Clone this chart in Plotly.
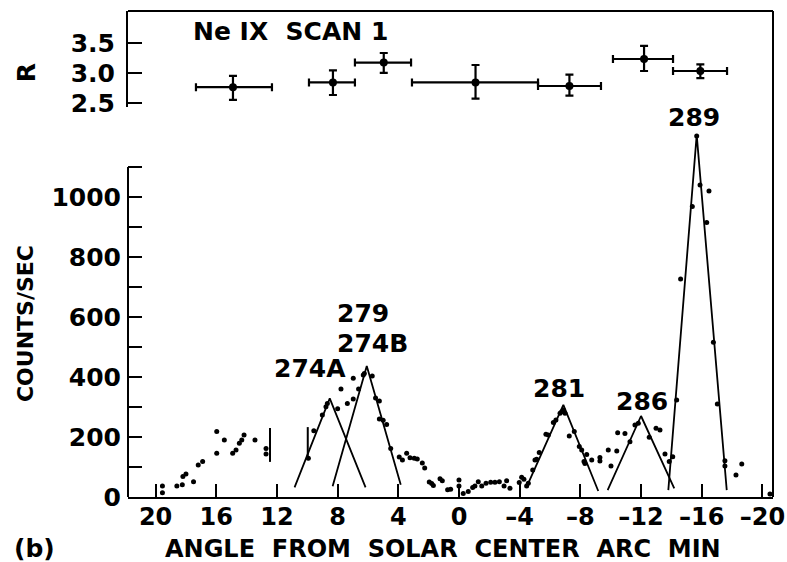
import plotly.graph_objects as go

# ---- Ne IX scan 1: counting rate versus angle from solar centre ----
dot_angle = [19.55, 19.55, 18.6, 18.24, 18.2, 18.0, 17.5, 17.19, 16.9, 15.97, 15.97, 15.47, 14.92, 14.7, 14.48, 14.32, 14.17, 13.45, 12.72, 12.72,
             9.93, 9.57, 9.01, 8.77, 8.68, 8.0, 7.78, 7.36, 6.97, 6.97, 6.62, 6.31, 6.24, 5.72, 5.5, 5.25, 5.25, 5.0, 4.77, 4.5,
             3.94, 3.73, 3.45, 3.23, 2.95, 2.75, 2.42, 2.26, 1.96, 1.8, 1.69, 1.25, 1.1, 0.75, 0.55, 0.0, 0.0,
             -0.28, -0.61, -0.9, -1.05, -1.27, -1.5, -1.78, -2.09, -2.37, -2.66, -2.97, -3.14, -3.36, -3.97, -4.13, -4.28, -4.46, -4.57, -4.86, -5.01,
             -5.12, -5.29, -5.73, -5.89, -6.22, -6.39, -6.66, -6.77, -6.88, -6.99, -7.27, -7.6, -7.93, -8.09, -8.24, -8.3, -8.42, -8.75, -9.29, -9.29,
             -9.84, -10.02, -10.4, -10.46, -10.94, -11.27, -11.6, -11.82, -12.54, -12.99, -13.25, -13.58, -13.86, -14.09, -14.35, -14.61, -15.38, -15.67, -15.89, -16.33,
             -16.48, -16.77, -17.03, -17.53, -17.53, -18.26, -18.64, -20.5]
dot_counts = [37, 14, 37, 41, 68, 77, 51, 107, 118, 218, 146, 190, 146, 157, 179, 190, 207, 190, 162, 143,
              129, 221, 273, 301, 312, 294, 360, 312, 327, 396, 360, 407, 412, 403, 330, 320, 260, 256, 242, 162,
              133, 123, 146, 131, 129, 127, 113, 97, 50, 45, 38, 61, 54, 24, 26, 57, 37,
              12, 18, 32, 37, 51, 37, 46, 49, 49, 51, 37, 54, 29, 48, 66, 59, 37, 46, 90, 123,
              126, 148, 209, 207, 248, 257, 279, 284, 290, 279, 203, 218, 168, 157, 118, 112, 142, 123, 120, 132,
              157, 103, 153, 214, 212, 184, 240, 246, 199, 229, 223, 143, 118, 134, 323, 727, 968, 1203, 1040, 915,
              1020, 516, 310, 121, 103, 73, 110, 10]

# fitted triangular line profiles: (left foot, apex, right foot)
peak_labels = ["274A", "274B", "281", "286", "289"]
peak_x = [[10.84, 8.52, 6.16], [8.33, 6.08, 3.84], [-4.46, -6.88, -9.18], [-9.8, -12.0, -14.19], [-13.8, -15.67, -17.65]]
peak_y = [[32, 329, 32], [36, 437, 41], [34, 307, 20], [23, 270, 29], [23, 1207, 23]]

# short vertical markers between scan segments
seg_x = [12.46, 9.97]
seg_lo = [117, 123]
seg_hi = [230, 233]

# line ratio R with angular bins
r_angle = [14.9, 8.31, 4.96, -1.09, -7.28, -12.2, -15.91]
r_bin_left = [17.34, 9.89, 6.86, 3.10, -5.21, -10.15, -14.11]
r_bin_right = [12.33, 6.86, 3.16, -5.21, -9.36, -14.11, -17.67]
r_value = [2.77, 2.85, 3.18, 2.85, 2.79, 3.24, 3.04]
r_err_up = [0.19, 0.20, 0.16, 0.29, 0.19, 0.22, 0.11]
r_err_dn = [0.21, 0.21, 0.17, 0.27, 0.16, 0.20, 0.12]

x_ticks = [20, 16, 12, 8, 4, 0, -4, -8, -12, -16, -20]
x_ticktext = ["20", "16", "12", "8", "4", "0", "\u20134", "\u20138", "\u201312", "\u201316", "\u201320"]
count_ticks = list(range(0, 1101, 100))
count_ticktext = [str(v) if v % 200 == 0 and v <= 1000 else "" for v in count_ticks]
r_ticks = [2.5, 3.0, 3.5]
r_ticktext = ["2.5", "3.0", "3.5"]

FONT = "DejaVu Sans"
INK = "black"

fig = go.Figure()

fig.add_trace(go.Scatter(x=dot_angle, y=dot_counts, mode="markers",
                         marker=dict(size=5, color=INK), showlegend=False))

for px_, py_ in zip(peak_x, peak_y):
    fig.add_trace(go.Scatter(x=px_, y=py_, mode="lines",
                             line=dict(color=INK, width=1.8), showlegend=False))

for sx, lo, hi in zip(seg_x, seg_lo, seg_hi):
    fig.add_trace(go.Scatter(x=[sx, sx], y=[lo, hi], mode="lines",
                             line=dict(color=INK, width=2), showlegend=False))

fig.add_trace(go.Scatter(
    x=r_angle, y=r_value, mode="markers", yaxis="y2",
    marker=dict(size=8, color=INK),
    error_x=dict(type="data", symmetric=False,
                 array=[l - a for l, a in zip(r_bin_left, r_angle)],
                 arrayminus=[a - r for a, r in zip(r_angle, r_bin_right)],
                 color=INK, thickness=2.2, width=4),
    error_y=dict(type="data", symmetric=False, array=r_err_up, arrayminus=r_err_dn,
                 color=INK, thickness=2.2, width=4),
    showlegend=False))

tickfont = dict(family=FONT, size=25, color=INK, weight="bold")

fig.update_layout(
    width=787, height=562,
    margin=dict(l=128, r=14, t=11, b=65, autoexpand=False),
    paper_bgcolor="white", plot_bgcolor="white",
    font=dict(family=FONT, color=INK, weight="bold"),
    xaxis=dict(range=[21.82, -20.70], tickvals=x_ticks, ticktext=x_ticktext,
               ticks="inside", ticklen=13, tickwidth=2, tickcolor=INK,
               showline=True, linewidth=2, linecolor=INK,
               showgrid=False, zeroline=False,
               tickfont=dict(family=FONT, size=24, color=INK, weight="bold"),
               ticklabelstandoff=-3, ticklabeloverflow="allow", automargin=False),
    yaxis=dict(domain=[0, 1], range=[0, 1620], tickvals=count_ticks, ticktext=count_ticktext,
               ticks="inside", ticklen=14, tickwidth=2, tickcolor=INK,
               showline=False, showgrid=False, zeroline=False, tickfont=tickfont,
               ticklabelstandoff=6, automargin=False),
    yaxis2=dict(domain=[0.8025, 1], range=[2.44, 4.04], anchor="x",
                tickvals=r_ticks, ticktext=r_ticktext,
                ticks="inside", ticklen=14, tickwidth=2, tickcolor=INK,
                showline=True, linewidth=2, linecolor=INK,
                showgrid=False, zeroline=False, tickfont=tickfont,
                ticklabelstandoff=6, automargin=False),
)

# frame: top and right edges, left edge of the counts scale
fig.add_shape(type="line", xref="paper", yref="paper", x0=0, x1=1, y0=1, y1=1,
              line=dict(color=INK, width=2))
fig.add_shape(type="line", xref="paper", yref="paper", x0=1, x1=1, y0=0, y1=1,
              line=dict(color=INK, width=2))
fig.add_shape(type="line", xref="paper", yref="y", x0=0, x1=0, y0=0, y1=1100,
              line=dict(color=INK, width=2))

label_font = dict(family=FONT, size=25, color=INK, weight="bold")
peak_text_pos = [(9.79, 430, "274A"), (6.36, 613, "279"), (5.70, 513, "274B"),
                 (-6.59, 363, "281"), (-12.04, 320, "286")]
for ax_, ay_, txt in peak_text_pos:
    fig.add_annotation(x=ax_, y=ay_, xref="x", yref="y", text=txt, showarrow=False,
                       font=label_font, xanchor="center", yanchor="middle")
fig.add_annotation(x=-15.49, y=0.781, xref="x", yref="paper", text="289", showarrow=False,
                   font=label_font, xanchor="center", yanchor="middle")

fig.add_annotation(x=0.2527, y=0.957, xref="paper", yref="paper", text="Ne IX  SCAN 1",
                   showarrow=False, font=label_font, xanchor="center", yanchor="middle")
fig.add_annotation(x=-0.158, y=0.872, xref="paper", yref="paper", text="R", textangle=-90,
                   showarrow=False, font=label_font, xanchor="center", yanchor="middle")
fig.add_annotation(x=-0.158, y=0.356, xref="paper", yref="paper", text="COUNTS/SEC", textangle=-90,
                   showarrow=False, font=dict(family=FONT, size=22, color=INK, weight="bold"),
                   xanchor="center", yanchor="middle")
fig.add_annotation(x=0.489, y=-0.108, xref="paper", yref="paper",
                   text="ANGLE  FROM  SOLAR  CENTER  ARC  MIN", showarrow=False,
                   font=dict(family=FONT, size=24, color=INK, weight="bold"),
                   xanchor="center", yanchor="middle")
fig.add_annotation(x=-0.1457, y=-0.105, xref="paper", yref="paper", text="(b)", showarrow=False,
                   font=label_font, xanchor="center", yanchor="middle")

fig.write_html("out.html")
